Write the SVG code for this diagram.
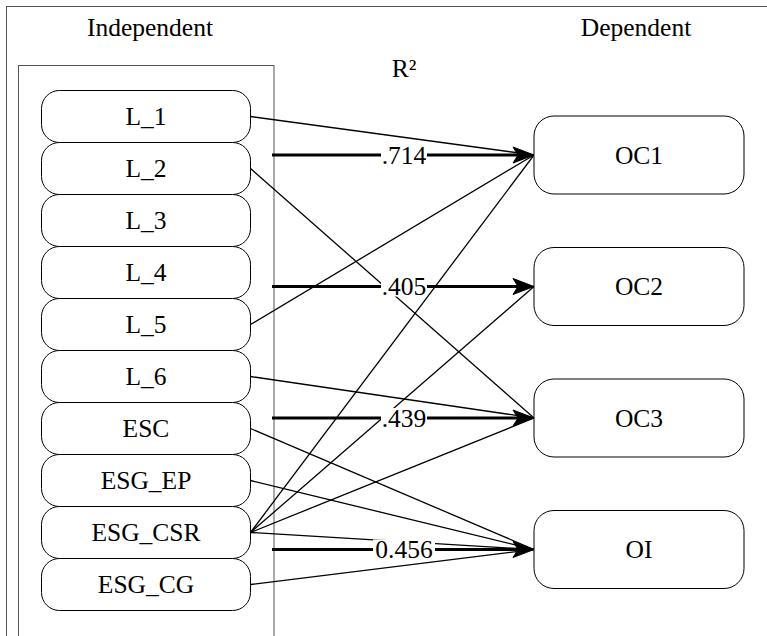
<svg xmlns="http://www.w3.org/2000/svg" width="767" height="636" viewBox="0 0 767 636">
<style>
  text { font-size: 25.5px; fill: #000; text-anchor: middle; }
  .frame { fill: none; stroke: #555; stroke-width: 1; }
  .node rect { fill: #fff; stroke: #000; stroke-width: 1; }
  .thin { stroke: #000; stroke-width: 1.3; fill: none; }
  .thick { stroke: #000; stroke-width: 3.2; fill: none; marker-end: url(#head); }
  .lbl { fill: #fff; stroke: none; }
</style>
<defs>
  <marker id="head" markerUnits="userSpaceOnUse" markerWidth="24" markerHeight="20" refX="10" refY="9" orient="auto" overflow="visible">
    <path d="M0,1 L21,9 L0,17 L5,9 Z" fill="#000" stroke="#000" stroke-width="1"/>
  </marker>
</defs>
<g font-family="'Liberation Serif', 'DejaVu Serif', serif">
<rect width="767" height="636" fill="#fff"/>
<rect class="frame" x="6.5" y="6.5" width="800" height="700"/>
<rect class="frame" x="18.5" y="65.5" width="255.5" height="640"/>
<text x="150" y="36">Independent</text>
<text x="636" y="36">Dependent</text>
<text x="404" y="77">R²</text>

<g id="connectors">
  <line class="thin" x1="250.5" y1="116.5" x2="534" y2="155"/>
  <line class="thin" x1="250.5" y1="324.5" x2="534" y2="155"/>
  <line class="thin" x1="250.5" y1="532.5" x2="534" y2="155"/>
  <line class="thin" x1="250.5" y1="532.5" x2="534" y2="286.5"/>
  <line class="thin" x1="250.5" y1="168.5" x2="534" y2="418"/>
  <line class="thin" x1="250.5" y1="376.5" x2="534" y2="418"/>
  <line class="thin" x1="250.5" y1="532.5" x2="534" y2="418"/>
  <line class="thin" x1="250.5" y1="428.5" x2="534" y2="549.5"/>
  <line class="thin" x1="250.5" y1="480.5" x2="534" y2="549.5"/>
  <line class="thin" x1="250.5" y1="532.5" x2="534" y2="549.5"/>
  <line class="thin" x1="250.5" y1="584.5" x2="534" y2="549.5"/>

  <line class="thick" x1="272" y1="155" x2="523" y2="155"/>
  <line class="thick" x1="272" y1="286.5" x2="523" y2="286.5"/>
  <line class="thick" x1="272" y1="418" x2="523" y2="418"/>
  <line class="thick" x1="272" y1="549.5" x2="523" y2="549.5"/>

  <rect class="lbl" x="381" y="145" width="46" height="20"/>
  <text x="404" y="163.5">.714</text>
  <rect class="lbl" x="381" y="276.5" width="46" height="20"/>
  <text x="404" y="295">.405</text>
  <rect class="lbl" x="381" y="408" width="46" height="20"/>
  <text x="404" y="426.5">.439</text>
  <rect class="lbl" x="373" y="539.5" width="62" height="20"/>
  <text x="404" y="558">0.456</text>
</g>

<g id="L_1" class="node"><rect x="41.5" y="90.5" width="209" height="52" rx="18"/><text x="146" y="125">L_1</text></g>
<g id="L_2" class="node"><rect x="41.5" y="142.5" width="209" height="52" rx="18"/><text x="146" y="177">L_2</text></g>
<g id="L_3" class="node"><rect x="41.5" y="194.5" width="209" height="52" rx="18"/><text x="146" y="229">L_3</text></g>
<g id="L_4" class="node"><rect x="41.5" y="246.5" width="209" height="52" rx="18"/><text x="146" y="281">L_4</text></g>
<g id="L_5" class="node"><rect x="41.5" y="298.5" width="209" height="52" rx="18"/><text x="146" y="333">L_5</text></g>
<g id="L_6" class="node"><rect x="41.5" y="350.5" width="209" height="52" rx="18"/><text x="146" y="385">L_6</text></g>
<g id="ESC" class="node"><rect x="41.5" y="402.5" width="209" height="52" rx="18"/><text x="146" y="437">ESC</text></g>
<g id="ESG_EP" class="node"><rect x="41.5" y="454.5" width="209" height="52" rx="18"/><text x="146" y="489">ESG_EP</text></g>
<g id="ESG_CSR" class="node"><rect x="41.5" y="506.5" width="209" height="52" rx="18"/><text x="146" y="541">ESG_CSR</text></g>
<g id="ESG_CG" class="node"><rect x="41.5" y="558.5" width="209" height="52" rx="18"/><text x="146" y="593">ESG_CG</text></g>

<g id="OC1" class="node"><rect x="534" y="116" width="210" height="78" rx="20"/><text x="639" y="163.5">OC1</text></g>
<g id="OC2" class="node"><rect x="534" y="247.5" width="210" height="78" rx="20"/><text x="639" y="295">OC2</text></g>
<g id="OC3" class="node"><rect x="534" y="379" width="210" height="78" rx="20"/><text x="639" y="426.5">OC3</text></g>
<g id="OI" class="node"><rect x="534" y="510.5" width="210" height="78" rx="20"/><text x="639" y="558">OI</text></g>
</g>
</svg>
